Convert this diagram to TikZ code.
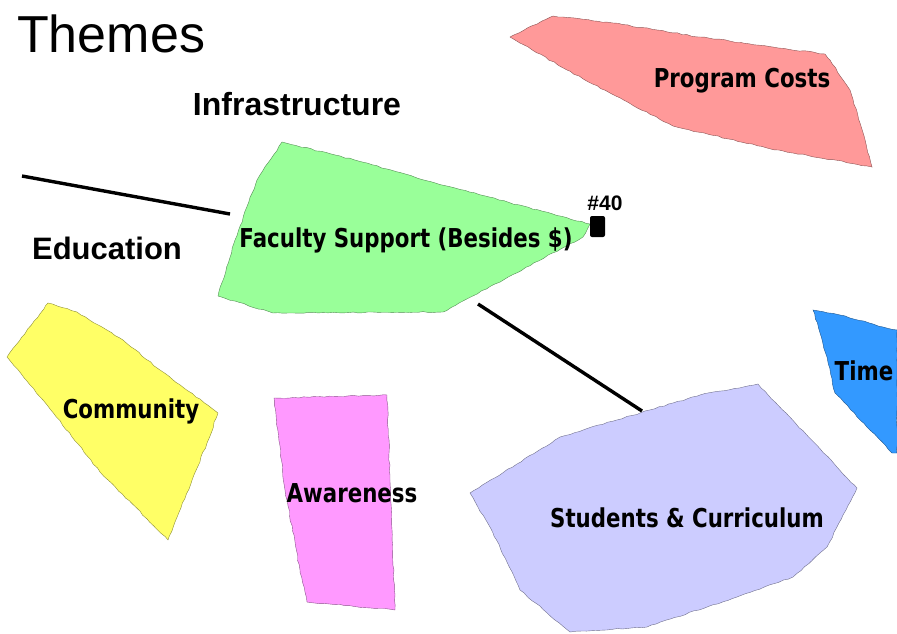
\documentclass[tikz,border=0pt]{standalone}
\usepackage{fontspec}
\setmainfont{Liberation Sans}
\newfontfamily\tagfont[FakeStretch=0.82]{DejaVu Sans}
\usetikzlibrary{decorations.pathmorphing}
\definecolor{costpink}{HTML}{FF9999}
\definecolor{facgreen}{HTML}{99FF99}
\definecolor{commyellow}{HTML}{FFFF66}
\definecolor{awaremagenta}{HTML}{FF99FF}
\definecolor{studlilac}{HTML}{CCCCFF}
\definecolor{timeblue}{HTML}{3399FF}

\begin{document}
\begin{tikzpicture}[x=1pt,y=-1pt,
  blob/.style={draw=#1!55!black,line width=0.4pt,fill=#1,
    decorate,decoration={random steps,segment length=5pt,amplitude=0.6pt}},
  tag/.style={anchor=base,inner sep=0pt,font=\tagfont\bfseries\fontsize{26}{26}\selectfont},
  link/.style={line width=3.4pt}]
  \pgfmathsetseed{7}
  \useasboundingbox (0,0) rectangle (897,633);
  % theme blobs
  \fill[blob=costpink] (510,37)--(553,16)--(613,23)--(700,37)--(825,54)--(830,60)--(850,90)
    --(860,123)--(872,167)--(767,148)--(673,126)--(610,93)--(567,70)--cycle;
  \fill[blob=facgreen] (282,142)--(367,163)--(417,178)--(590,224)--(583,237)--(443,312)
    --(273,313)--(218,296)--(235,240)--(257,180)--cycle;
  \fill[blob=commyellow] (48,303)--(77,312)--(123,340)--(160,370)--(218,413)--(207,443)
    --(168,540)--(100,472)--(43,400)--(7,357)--cycle;
  \fill[blob=awaremagenta] (274,398)--(387,395)--(390,480)--(395,610)--(307,602)--(300,570)
    --(285,490)--cycle;
  \fill[blob=studlilac] (758,384)--(857,488)--(827,547)--(793,577)--(737,597)--(647,627)
    --(570,632)--(520,590)--(493,533)--(470,493)--(560,437)--(640,413)--(700,395)--cycle;
  \fill[blob=timeblue] (813,310)--(840,315)--(883,327)--(897,330)--(897,453)--(892,453)
    --(835,393)--(827,357)--cycle;
  % headings
  \node[anchor=base west,inner sep=0pt,font=\fontsize{52}{52}\selectfont] (title) at (17,52) {Themes};
  \node[anchor=base,inner sep=0pt,font=\bfseries\fontsize{32}{32}\selectfont] (infra) at (297,115) {Infrastructure};
  \node[anchor=base,inner sep=0pt,font=\bfseries\fontsize{31}{31}\selectfont] (edu) at (107,259) {Education};
  % labels
  \node[tag] (cost) at (742,87) {Program Costs};
  \node[tag] (fac) at (406,247) {Faculty Support (Besides \$)};
  \node[tag] (comm) at (131,418) {Community};
  \node[tag] (aware) at (352,502) {Awareness};
  \node[tag] (stud) at (687,527) {Students \& Curriculum};
  \node[tag] (time) at (864,380) {Time};
  % marker #40
  \node[fill=black,rounded corners=2pt,inner sep=0pt,minimum width=15,minimum height=21] (mark) at (597.5,226.5) {};
  \node[anchor=base,inner sep=0pt,font=\bfseries\fontsize{21}{21}\selectfont] (num) at (605,210) {\#40};
  % connectors
  \coordinate (eduA) at (22,176);
  \coordinate (eduB) at (230,214);
  \coordinate (facA) at (478,304);
  \coordinate (studA) at (642,411);
  \draw[link] (eduA) -- (eduB);
  \draw[link] (facA) -- (studA);
\end{tikzpicture}
\end{document}
